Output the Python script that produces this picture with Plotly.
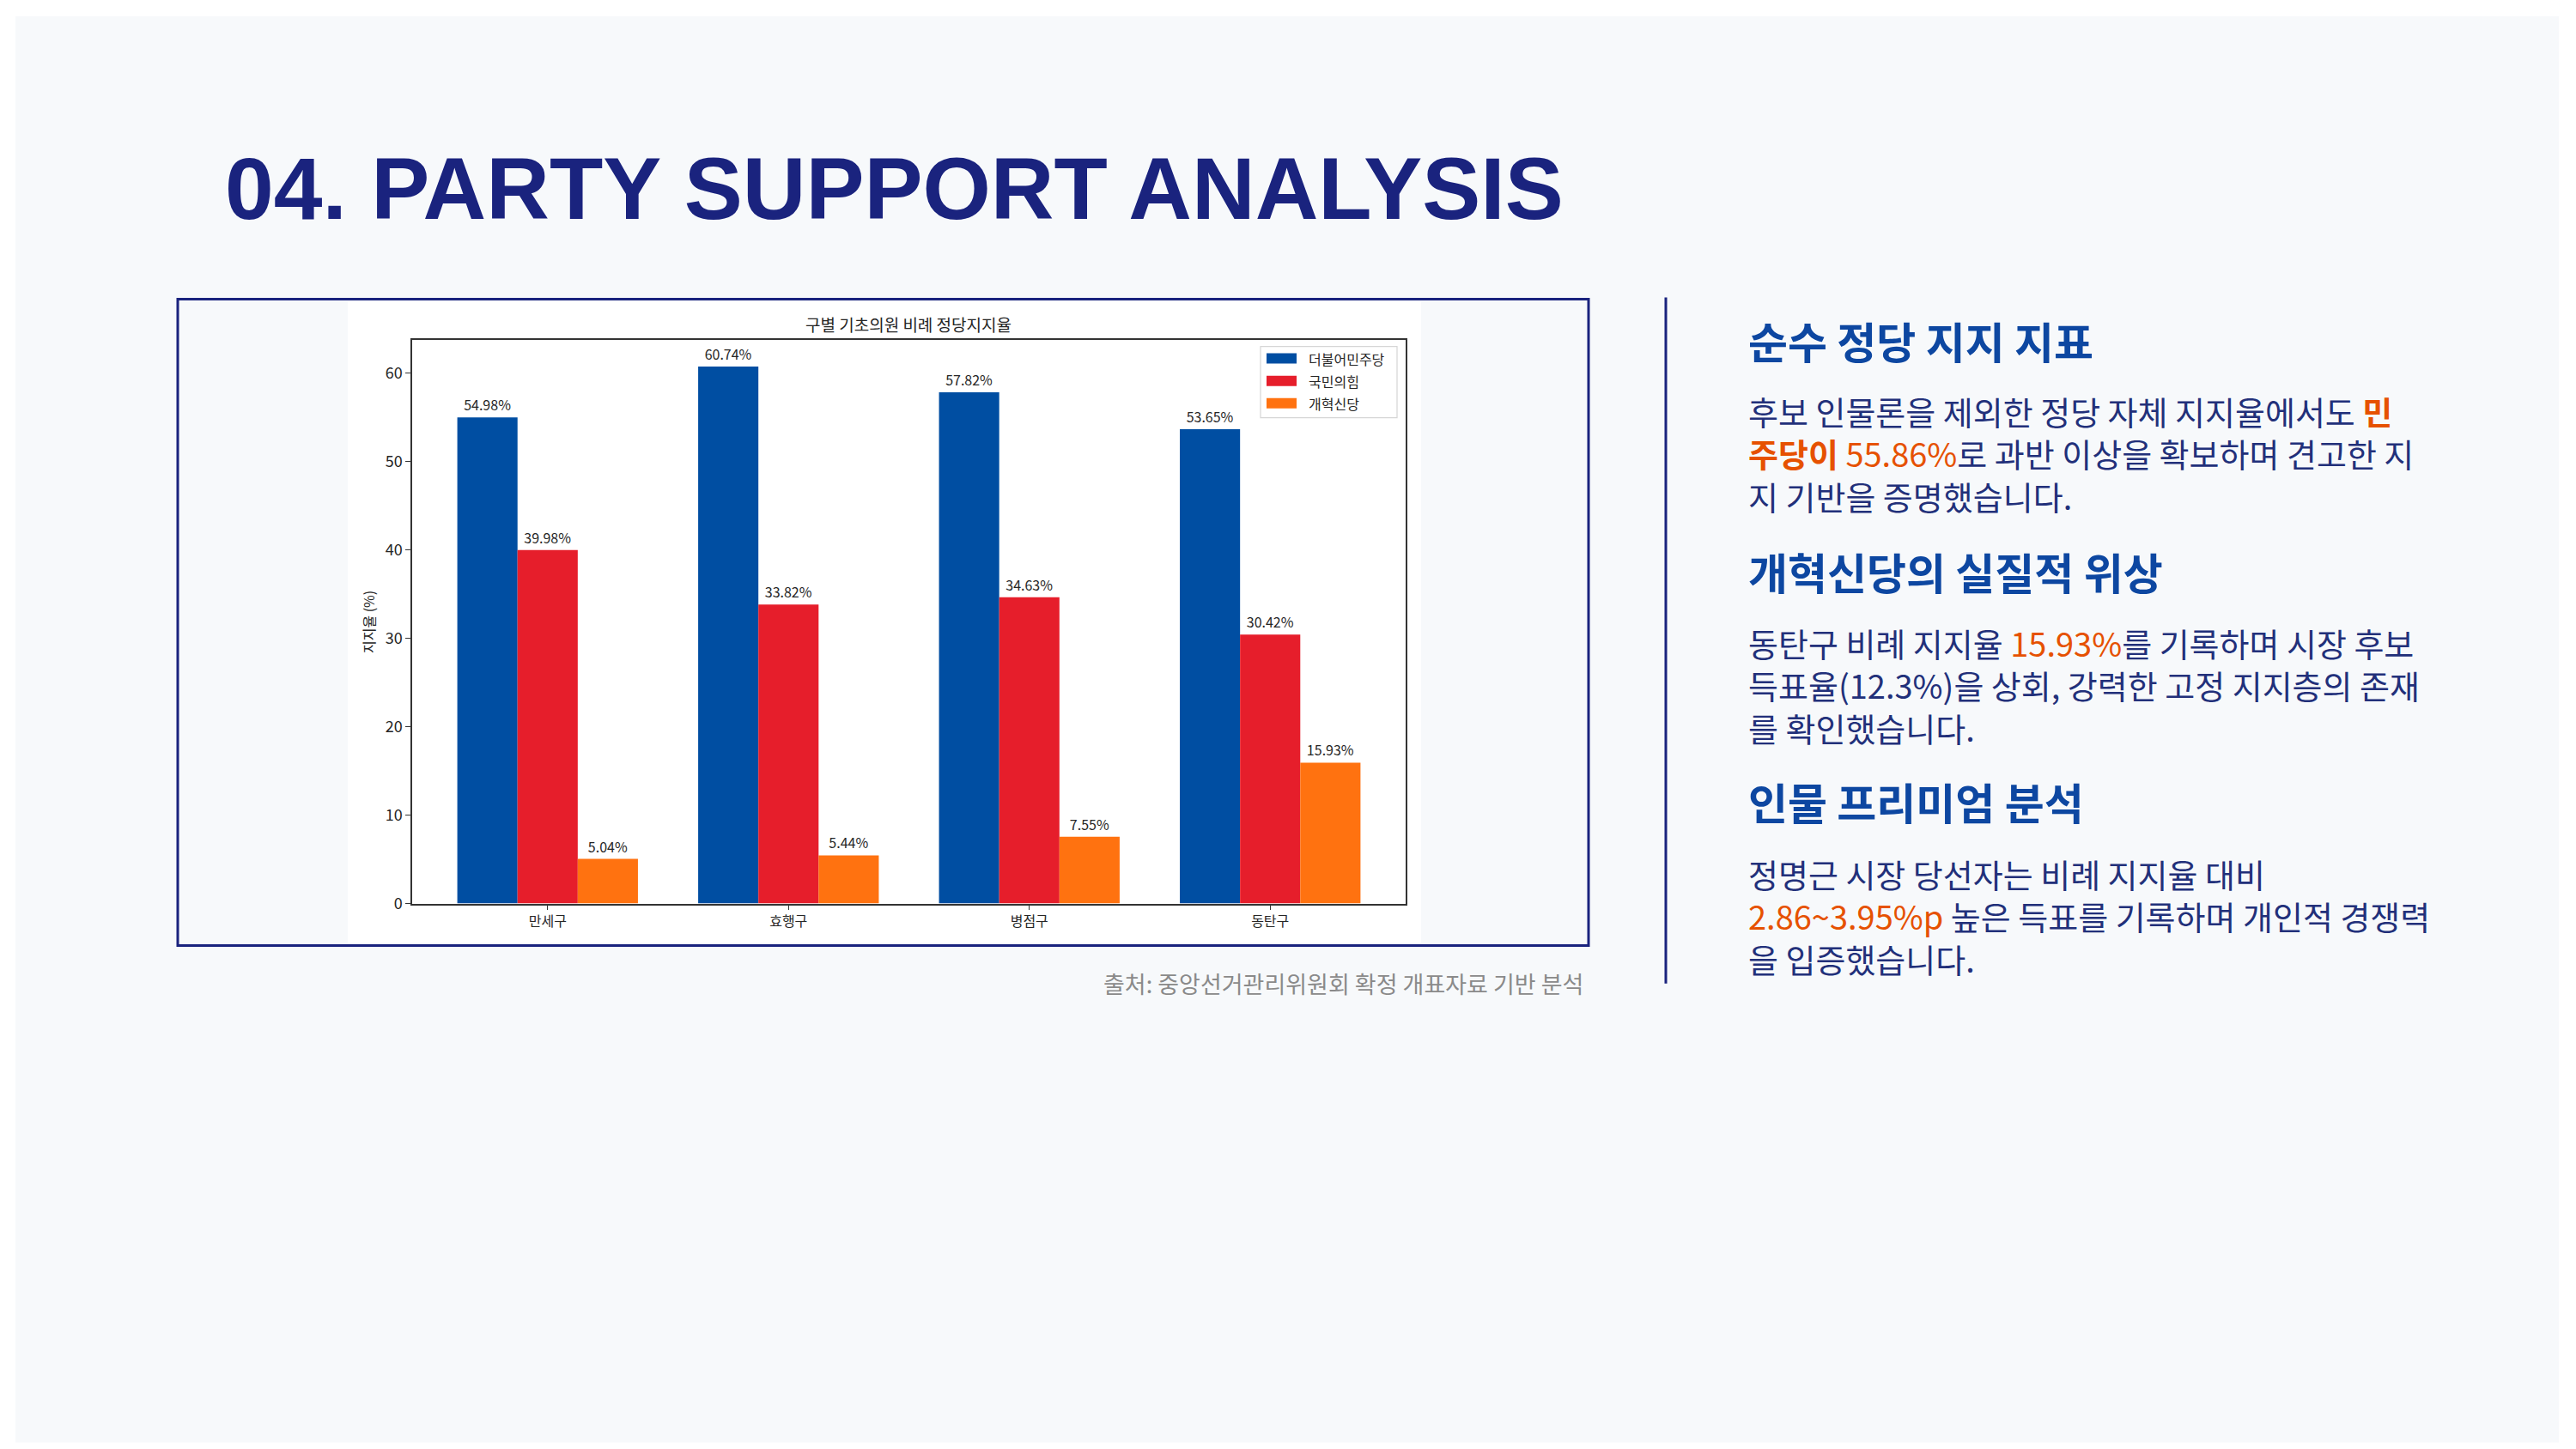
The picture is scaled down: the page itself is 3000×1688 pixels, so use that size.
import plotly.graph_objects as go

# ---------------- data ----------------
districts = ["만세구", "효행구", "병점구", "동탄구"]
parties = ["더불어민주당", "국민의힘", "개혁신당"]
dem_support = [54.98, 60.74, 57.82, 53.65]
ppp_support = [39.98, 33.82, 34.63, 30.42]
reform_support = [5.04, 5.44, 7.55, 15.93]
party_colors = ["#004EA2", "#E61E2B", "#FF7210"]
y_ticks = [0, 10, 20, 30, 40, 50, 60]

chart_title = "구별 기초의원 비례 정당지지율"
y_title = "지지율 (%)"
slide_title = "04. PARTY SUPPORT ANALYSIS"
source_note = "출처: 중앙선거관리위원회 확정 개표자료 기반 분석"

W, H = 3000, 1688
SY = 1.008  # vertical calibration
def X(px):
    return px / W
def Y(py):
    return 1 - py * SY / H

KR = "Noto Sans CJK KR"
NAVY = "#1a237e"
HEAD = "#0d47a1"
BODY = "#22307a"
ORANGE = "#e65100"

series = [dem_support, ppp_support, reform_support]

fig = go.Figure()
for name, vals, col in zip(parties, series, party_colors):
    fig.add_trace(go.Bar(
        x=districts, y=vals, name=name,
        marker=dict(color=col, line=dict(width=0)),
        text=[f"{v:.2f}%" for v in vals],
        textposition="outside",
        textfont=dict(family=KR, size=16, color="#262626"),
        constraintext="none",
        cliponaxis=False,
        showlegend=False,
    ))

shapes = [
    dict(type="rect", xref="paper", yref="paper", x0=X(18), x1=X(2980), y0=Y(1678), y1=Y(19),
         fillcolor="#f7f9fb", line=dict(width=0), layer="below"),
    dict(type="rect", xref="paper", yref="paper", x0=X(207), x1=X(1850), y0=Y(1100), y1=Y(348),
         fillcolor="#f7f9fb", line=dict(color=NAVY, width=3), layer="below"),
    dict(type="rect", xref="paper", yref="paper", x0=X(405), x1=X(1655), y0=Y(1097), y1=Y(351),
         fillcolor="white", line=dict(width=0), layer="below"),
    dict(type="line", xref="paper", yref="paper", x0=X(1940), x1=X(1940), y0=Y(1144), y1=Y(346),
         line=dict(color=NAVY, width=3), layer="below"),
    dict(type="rect", xref="paper", yref="paper", x0=X(1468), x1=X(1627), y0=Y(486), y1=Y(403),
         fillcolor="rgba(255,255,255,0.9)", line=dict(color="#d6d6d6", width=1.2), layer="above"),
]

annotations = []
for i, (name, col) in enumerate(zip(parties, party_colors)):
    cy = 417 + 26 * i
    shapes.append(dict(type="rect", xref="paper", yref="paper", x0=X(1475), x1=X(1510),
                       y0=Y(cy + 6), y1=Y(cy - 6), fillcolor=col, line=dict(width=0), layer="above"))
    annotations.append(dict(xref="paper", yref="paper", x=X(1522), y=Y(cy), text=name,
                            showarrow=False, xanchor="left", yanchor="middle",
                            font=dict(family=KR, size=16, color="#262626")))

annotations += [
    dict(xref="paper", yref="paper", x=X(1058), y=Y(377), text=chart_title, showarrow=False,
         xanchor="center", yanchor="middle", font=dict(family=KR, size=19, color="#262626")),
    dict(xref="paper", yref="paper", x=X(429), y=Y(723), text=y_title, showarrow=False,
         textangle=-90, xanchor="center", yanchor="middle", font=dict(family=KR, size=16, color="#262626")),
    dict(xref="paper", yref="paper", x=X(260), y=Y(220), text=slide_title, showarrow=False,
         xanchor="left", yanchor="middle",
         font=dict(family="Liberation Sans", size=102, color=NAVY, weight="bold")),
    dict(xref="paper", yref="paper", x=X(1846), y=Y(1144), text=source_note, showarrow=False,
         xanchor="right", yanchor="middle", font=dict(family=KR, size=27, color="#8a8a8a")),
    dict(xref="paper", yref="paper", x=X(2034), y=Y(395), text="<b>순수 정당 지지 지표</b>", showarrow=False,
         xanchor="left", yanchor="middle", font=dict(family=KR, size=50, color=HEAD)),
    dict(xref="paper", yref="paper", x=X(2034), y=Y(664), text="<b>개혁신당의 실질적 위상</b>", showarrow=False,
         xanchor="left", yanchor="middle", font=dict(family=KR, size=50, color=HEAD)),
    dict(xref="paper", yref="paper", x=X(2034), y=Y(932), text="<b>인물 프리미엄 분석</b>", showarrow=False,
         xanchor="left", yanchor="middle", font=dict(family=KR, size=50, color=HEAD)),
    dict(xref="paper", yref="paper", x=X(2034), y=Y(527), showarrow=False, xanchor="left", yanchor="middle",
         align="left", font=dict(family=KR, size=38, color=BODY),
         text=(f"후보 인물론을 제외한 정당 자체 지지율에서도 <span style='color:{ORANGE}'><b>민</b></span><br>"
               f"<span style='color:{ORANGE}'><b>주당이</b> 55.86%</span>로 과반 이상을 확보하며 견고한 지<br>"
               "지 기반을 증명했습니다.")),
    dict(xref="paper", yref="paper", x=X(2034), y=Y(797), showarrow=False, xanchor="left", yanchor="middle",
         align="left", font=dict(family=KR, size=38, color=BODY),
         text=(f"동탄구 비례 지지율 <span style='color:{ORANGE}'>15.93%</span>를 기록하며 시장 후보<br>"
               "득표율(12.3%)을 상회, 강력한 고정 지지층의 존재<br>"
               "를 확인했습니다.")),
    dict(xref="paper", yref="paper", x=X(2034), y=Y(1065), showarrow=False, xanchor="left", yanchor="middle",
         align="left", font=dict(family=KR, size=38, color=BODY),
         text=("정명근 시장 당선자는 비례 지지율 대비<br>"
               f"<span style='color:{ORANGE}'>2.86~3.95%p</span> 높은 득표를 기록하며 개인적 경쟁력<br>"
               "을 입증했습니다.")),
]

fig.update_layout(
    width=W, height=H, autosize=False,
    margin=dict(l=0, r=0, t=0, b=0, pad=0),
    paper_bgcolor="white", plot_bgcolor="white",
    barmode="group", bargap=0.25, bargroupgap=0,
    shapes=shapes, annotations=annotations,
    showlegend=False,
    xaxis=dict(domain=[X(480), X(1637)], type="category", range=[-0.5625, 3.5625],
               showline=True, mirror=True, linecolor="#333333", linewidth=1.5,
               ticks="outside", ticklen=6, tickwidth=1.2, tickcolor="#333333",
               showgrid=False, zeroline=False,
               tickfont=dict(family=KR, size=16, color="#262626")),
    yaxis=dict(domain=[Y(1051), Y(395)], range=[0, 63.78], tickvals=y_ticks,
               showline=True, mirror=True, linecolor="#333333", linewidth=1.5,
               ticks="outside", ticklen=6, tickwidth=1.2, tickcolor="#333333",
               showgrid=False, zeroline=False,
               tickfont=dict(family=KR, size=18, color="#262626")),
)

fig.write_html("out.html")
